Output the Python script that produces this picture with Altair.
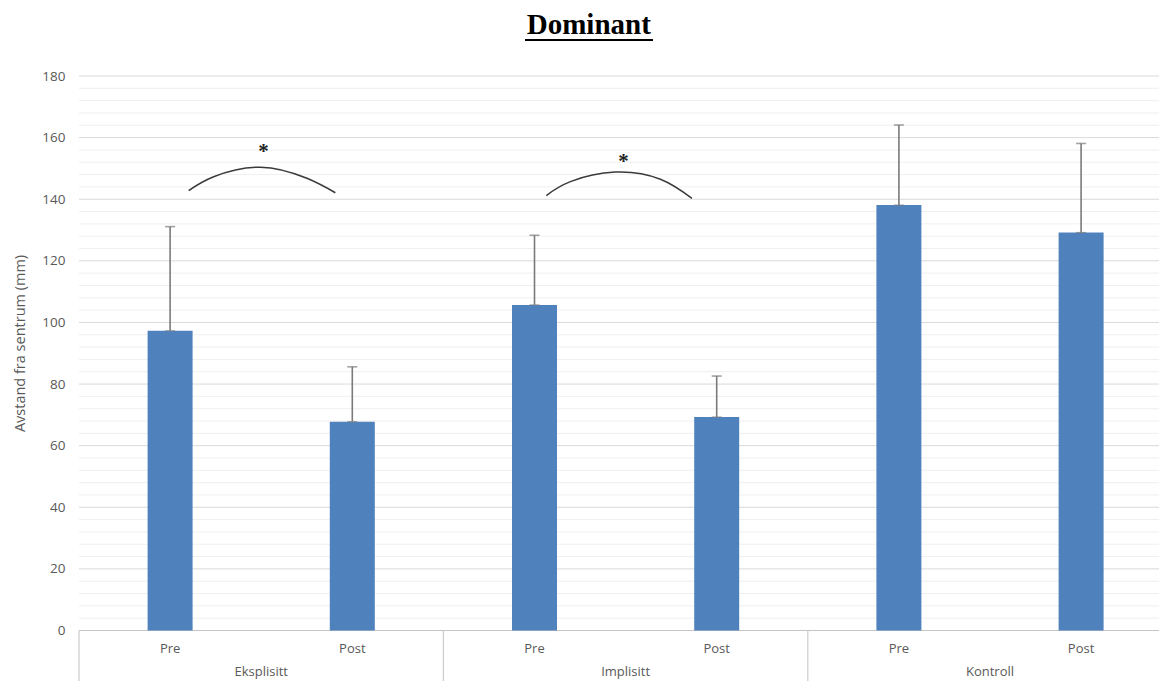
import altair as alt
import pandas as pd

# ---- data ----
groups = ["Eksplisitt", "Eksplisitt", "Implisitt", "Implisitt", "Kontroll", "Kontroll"]
phases = ["Pre", "Post", "Pre", "Post", "Pre", "Post"]
positions = [0.5, 1.5, 2.5, 3.5, 4.5, 5.5]
means = [97.3, 67.8, 105.7, 69.3, 138.1, 129.2]
sds = [33.8, 17.8, 22.6, 13.3, 26.0, 28.9]

group_names = ["Eksplisitt", "Implisitt", "Kontroll"]
group_centers = [1, 3, 5]
separators = [0, 2, 4, 6]

arc_id = [1, 1, 1, 1, 1, 2, 2, 2, 2, 2]
arc_x = [0.602, 0.739, 0.995, 1.251, 1.407, 2.565, 2.697, 2.943, 3.191, 3.364]
arc_y = [142.8, 147.3, 150.4, 146.8, 142.1, 141.2, 145.7, 148.8, 146.5, 140.3]
star_x = [1.013, 2.989]
star_y = [156.6, 153.3]

y_labels = [0, 20, 40, 60, 80, 100, 120, 140, 160, 180]
major_grid = [20, 40, 60, 80, 100, 120, 140, 160, 180]
minor_grid = [v for v in range(4, 180, 4) if v % 20 != 0]
title_text = ["Dominant"]

W = 1080
H = 554.5
FONT = "Open Sans"
GRAY = "#595959"

bars = pd.DataFrame({"group": groups, "phase": phases, "pos": positions,
                     "mean": means, "sd": sds})
bars["upper"] = bars["mean"] + bars["sd"]
groups_df = pd.DataFrame({"name": group_names, "pos": group_centers})
sep_df = pd.DataFrame({"pos": separators})
arcs = pd.DataFrame({"id": arc_id, "x": arc_x, "y": arc_y})
stars = pd.DataFrame({"x": star_x, "y": star_y, "t": ["*", "*"]})
title_df = pd.DataFrame({"t": title_text})
major_df = pd.DataFrame({"v": major_grid})
minor_df = pd.DataFrame({"v": minor_grid})

xs = alt.Scale(domain=[0, W / 182.2], nice=False, zero=False, padding=0)
ys = alt.Scale(domain=[0, 180], nice=False, padding=0)

yaxis = alt.Axis(
    values=y_labels, grid=False,
    domain=False, ticks=False, labelOverlap=False,
    labelFont=FONT, labelFontSize=13.5, labelColor=GRAY, labelPadding=14,
    title="Avstand fra sentrum (mm)", titleFont=FONT, titleFontSize=14.5,
    titleFontWeight="normal", titleColor=GRAY, titleAngle=270,
    titleX=-58.7, titleY=267, titleBaseline="middle", titleAlign="center",
)

minor_layer = alt.Chart(minor_df).mark_rule(color="#efefef", strokeWidth=1).encode(
    y=alt.Y("v:Q", scale=ys, axis=yaxis)
)
major_layer = alt.Chart(major_df).mark_rule(color="#d9d9d9", strokeWidth=1).encode(
    y=alt.Y("v:Q", scale=ys)
)

base = alt.Chart(bars)

bar_layer = base.mark_bar(size=45, color="#4f81bd").encode(
    x=alt.X("pos:Q", scale=xs, axis=None),
    y=alt.Y("mean:Q", scale=ys),
)

err_rule = base.mark_rule(color="#7a7a7a", strokeWidth=1.6).encode(
    x=alt.X("pos:Q", scale=xs), y=alt.Y("mean:Q", scale=ys), y2="upper:Q"
)
err_cap = base.mark_tick(color="#7a7a7a", orient="horizontal", size=10, thickness=1.6).encode(
    x=alt.X("pos:Q", scale=xs), y=alt.Y("upper:Q", scale=ys)
)
err_base = base.mark_tick(color="#7a7a7a", orient="horizontal", size=10, thickness=1.2).encode(
    x=alt.X("pos:Q", scale=xs), y=alt.Y("mean:Q", scale=ys)
)

zero_line = alt.Chart(sep_df).mark_rule(color="#c4c4c4", strokeWidth=1.2).encode(
    y=alt.datum(0, scale=ys)
)
sep_lines = alt.Chart(sep_df).mark_rule(color="#cccccc", strokeWidth=1.2).encode(
    x=alt.X("pos:Q", scale=xs), y=alt.value(H), y2=alt.value(H + 60)
)

phase_labels = base.mark_text(font=FONT, fontSize=13, color=GRAY, baseline="middle").encode(
    x=alt.X("pos:Q", scale=xs), y=alt.value(H + 18.5), text="phase:N"
)
group_labels = alt.Chart(groups_df).mark_text(font=FONT, fontSize=13, color=GRAY,
                                               baseline="middle").encode(
    x=alt.X("pos:Q", scale=xs), y=alt.value(H + 41), text="name:N"
)

arc_layer = alt.Chart(arcs).mark_line(interpolate="natural", color="#3a3a3a",
                                      strokeWidth=1.5).encode(
    x=alt.X("x:Q", scale=xs), y=alt.Y("y:Q", scale=ys), detail="id:N"
)
star_layer = alt.Chart(stars).mark_text(font="Liberation Serif", fontWeight="bold",
                                        fontSize=21, baseline="alphabetic", dy=10,
                                        color="#222222").encode(
    x=alt.X("x:Q", scale=xs), y=alt.Y("y:Q", scale=ys), text="t:N"
)

title_layer = alt.Chart(title_df).mark_text(font="Liberation Serif", fontWeight="bold",
                                            fontSize=29, baseline="alphabetic",
                                            align="center", color="#000000").encode(
    x=alt.value(509.8), y=alt.value(-42), text="t:N"
)
underline = alt.Chart(title_df).mark_rule(color="#000000", strokeWidth=2.2).encode(
    x=alt.value(446), x2=alt.value(574), y=alt.value(-36)
)

chart = alt.layer(
    minor_layer, major_layer, zero_line, bar_layer, err_rule, err_cap, err_base,
    sep_lines, phase_labels, group_labels, arc_layer, star_layer, title_layer, underline
).properties(
    width=W, height=H,
    padding={"left": 71, "top": 68, "right": 0, "bottom": 50.5},
    autosize=alt.AutoSizeParams(type="none"),
    background="white",
).configure_view(stroke=None)

chart.save("out.html", embed_options={"renderer": "svg", "actions": False})
